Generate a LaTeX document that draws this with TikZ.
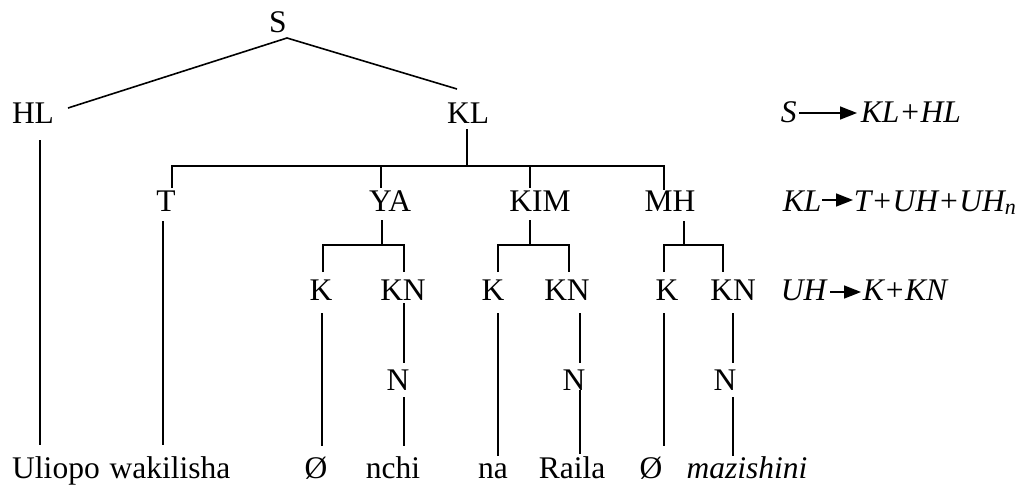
\documentclass[tikz,border=0pt]{standalone}
\usepackage{fontspec}
\setmainfont{Liberation Serif}
\usetikzlibrary{arrows.meta}

\begin{document}
\begin{tikzpicture}[x=1pt,y=-1pt,line width=1.6pt,font=\fontsize{31.5}{36}\selectfont]
                  \tikzstyle{every node}+=[inner sep=0pt,anchor=base]
                  \tikzstyle{rl}=[font=\fontsize{31.5}{36}\selectfont\itshape]
                  \tikzstyle{yields}=[-{Triangle[length=17pt,width=13pt]},shorten <=2pt,shorten >=1pt]
                  \useasboundingbox (0,0) rectangle (1021,485);
                  % tree labels
                  \node (S) at (278,32) {S};
                  \node (HL) at (33,123) {HL};
                  \node (KL) at (468,123) {KL};
                  \node (T) at (166,211) {T};
                  \node (YA) at (390,211) {YA};
                  \node (KIM) at (540,211) {KIM};
                  \node (MH) at (670,211) {MH};
                  \node (K1) at (321,300) {K};
                  \node (KN1) at (403,300) {KN};
                  \node (K2) at (493,300) {K};
                  \node (KN2) at (567,300) {KN};
                  \node (K3) at (667,300) {K};
                  \node (KN3) at (733,300) {KN};
                  \node (N1) at (398,390) {N};
                  \node (N2) at (574,390) {N};
                  \node (N3) at (725,390) {N};
                  % words
                  \node (w1) at (56,478) {Uliopo};
                  \node (w2) at (170,478) {wakilisha};
                  \node (w3) at (316,478) {Ø};
                  \node (w4) at (393,478) {nchi};
                  \node (w5) at (493,478) {na};
                  \node (w6) at (572,478) {Raila};
                  \node (w7) at (651,478) {Ø};
                  \node (w8) at (747,478) {\textit{mazishini}};
                  % rules
                  \node [rl,anchor=base west] (r1l) at (780,122) {S};
                  \node [rl,anchor=base west] (r1r) at (860,122) {KL+HL};
                  \node [rl,anchor=base west] (r2l) at (782,211) {KL};
                  \node [rl,anchor=base west] (r2r) at (853,211) {T+UH+UH\textsubscript{\itshape n}};
                  \node [rl,anchor=base west] (r3l) at (780,300) {UH};
                  \node [rl,anchor=base west] (r3r) at (862,300) {K+KN};
                  \coordinate (a1) at (797,113);
                  \coordinate (b1) at (858,113);
                  \coordinate (a2) at (820,200);
                  \coordinate (b2) at (854,200);
                  \coordinate (a3) at (828,292);
                  \coordinate (b3) at (862,292);
                  \draw [yields] (a1) -- (b1);
                  \draw [yields] (a2) -- (b2);
                  \draw [yields] (a3) -- (b3);
                  % S branches
                  \coordinate (s0) at (287,38);
                  \coordinate (hl0) at (68,108);
                  \coordinate (kl0) at (457,89);
                  \draw (s0) -- (hl0);
                  \draw (s0) -- (kl0);
                  \draw (40,140) -- (40,445);
                  % KL bar
                  \draw (467,129) -- (467,166);
                  \draw (172,188) -- (172,166) -- (664,166) -- (664,190);
                  \draw (381,166) -- (381,188);
                  \draw (530,166) -- (530,188);
                  \draw (163,221) -- (163,445);
                  % YA
                  \draw (382,220) -- (382,245);
                  \draw (323,272) -- (323,245) -- (404,245) -- (404,272);
                  % KIM
                  \draw (530,220) -- (530,245);
                  \draw (498,272) -- (498,245) -- (569,245) -- (569,272);
                  % MH
                  \draw (684,221) -- (684,245);
                  \draw (664,272) -- (664,245) -- (723,245) -- (723,272);
                  % down to words
                  \draw (322,313) -- (322,446);
                  \draw (404,303) -- (404,363);
                  \draw (404,397) -- (404,446);
                  \draw (498,313) -- (498,456);
                  \draw (580,313) -- (580,363);
                  \draw (580,390) -- (580,454);
                  \draw (664,313) -- (664,446);
                  \draw (733,313) -- (733,363);
                  \draw (733,397) -- (733,456);
              \end{tikzpicture}
\end{document}
